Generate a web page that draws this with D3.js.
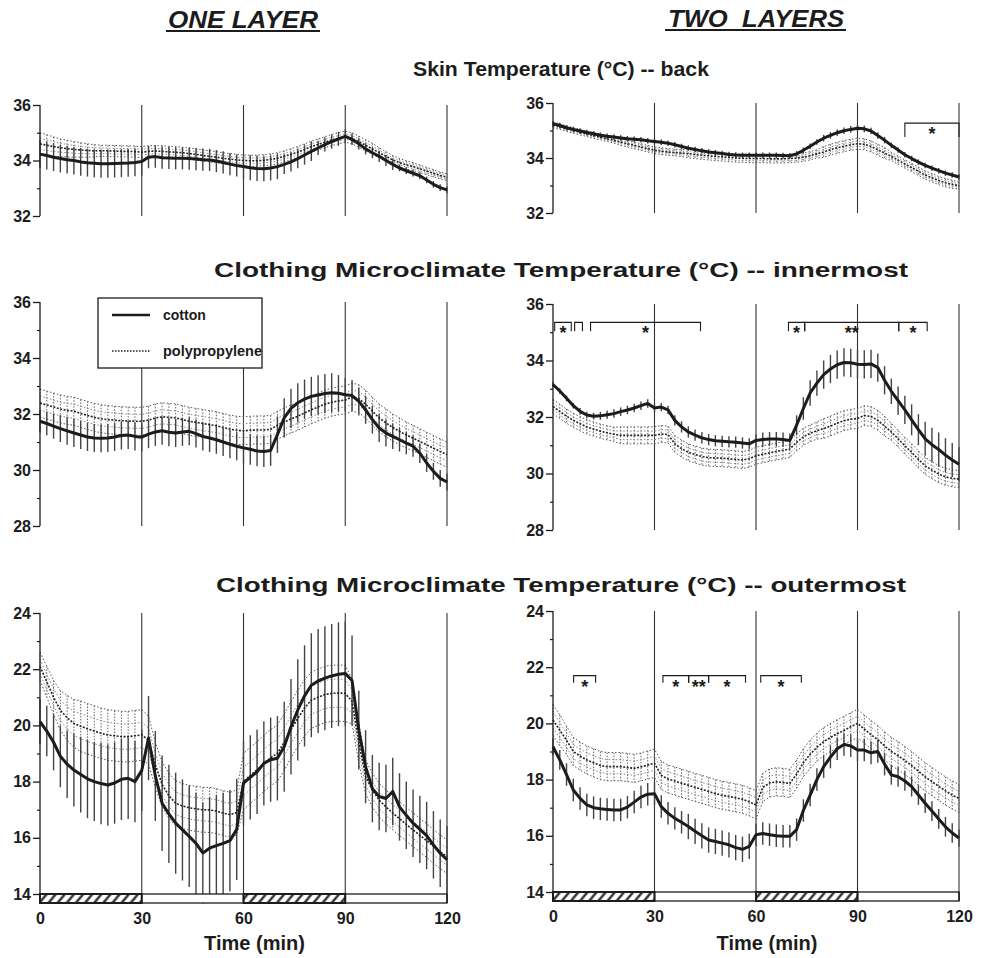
<!DOCTYPE html>
<html><head><meta charset="utf-8">
<script src="https://cdn.jsdelivr.net/npm/d3@7/dist/d3.min.js"></script>
<style>body{margin:0;background:#fff}</style>
</head><body>
<svg id="chart" width="981" height="958"></svg>
<script>
// ---------------- DATA ----------------
const minutes = [0,2,4,6,8,10,12,14,16,18,20,22,24,26,28,30,32,34,36,38,40,42,44,46,48,50,52,54,56,58,60,62,64,66,68,70,72,74,76,78,80,82,84,86,88,90,92,94,96,98,100,102,104,106,108,110,112,114,116,118,120];
const timeTicks = [0,30,60,90,120];
const phaseLines = [30,60,90,120];
const exerciseBouts = [[0,30],[60,90]];
const columnTitles = ["ONE LAYER","TWO  LAYERS"];
const rowTitles = ["Skin Temperature (°C) -- back","Clothing Microclimate Temperature (°C) -- innermost","Clothing Microclimate Temperature (°C) -- outermost"];
const seriesNames = ["cotton","polypropylene"];
const xTitle = "Time (min)";

const skinTicks = [32,34,36], skinMinor = [33,35];
const innerTicks = [28,30,32,34,36], innerMinor = [29,31,33,35];
const outerTicks = [14,16,18,20,22,24], outerMinor = [15,17,19,21,23];

// Skin back, one layer
const skinOneCotton = [34.23,34.18,34.12,34.07,34.03,34.00,33.95,33.92,33.90,33.88, 33.88,33.89,33.90,33.91,33.93,33.96,34.12,34.14,34.10,34.09, 34.08,34.08,34.07,34.05,34.03,34.02,33.98,33.93,33.87,33.82, 33.78,33.74,33.71,33.70,33.73,33.78,33.86,33.95,34.07,34.20, 34.33,34.45,34.57,34.68,34.78,34.87,34.76,34.60,34.42,34.28, 34.15,34.00,33.86,33.73,33.63,33.54,33.45,33.30,33.14,33.02, 32.94];
const skinOneCottonSD = [0.5,0.5,0.5,0.5,0.5,0.5,0.5,0.5,0.5,0.5, 0.5,0.5,0.5,0.5,0.5,0.5,0.4,0.4,0.4,0.4, 0.4,0.4,0.4,0.4,0.4,0.4,0.4,0.4,0.4,0.4, 0.45,0.45,0.45,0.45,0.45,0.45,0.35,0.35,0.35,0.35, 0.35,0.25,0.25,0.25,0.25,0.25,0.2,0.2,0.2,0.2, 0.2,0.2,0.2,0.12,0.12,0.12,0.12,0.12,0.12,0.12, 0.12];
const skinOnePoly = [34.60,34.55,34.50,34.46,34.43,34.40,34.38,34.36,34.35,34.35, 34.35,34.34,34.33,34.33,34.32,34.30,34.33,34.34,34.33,34.31, 34.30,34.28,34.25,34.22,34.18,34.15,34.12,34.08,34.05,34.02, 34.00,33.99,33.99,34.01,34.04,34.08,34.15,34.22,34.30,34.40, 34.50,34.58,34.66,34.74,34.80,34.86,34.80,34.68,34.55,34.42, 34.28,34.15,34.02,33.92,33.84,33.78,33.70,33.62,33.54,33.46, 33.40];
const skinOnePolySD = [0.40,0.38,0.35,0.32,0.30,0.28,0.26,0.24,0.22,0.20, 0.2,0.2,0.2,0.2,0.2,0.2,0.2,0.2,0.2,0.2, 0.2,0.2,0.2,0.2,0.2,0.2,0.2,0.2,0.2,0.2, 0.2,0.2,0.2,0.2,0.2,0.2,0.2,0.2,0.2,0.2, 0.2,0.2,0.2,0.2,0.2,0.2,0.2,0.2,0.2,0.2, 0.18,0.17,0.16,0.15,0.15,0.14,0.14,0.13,0.13,0.12, 0.12];

// Skin back, two layers
const skinTwoCotton = [35.25,35.18,35.10,35.04,34.98,34.93,34.88,34.83,34.79,34.76, 34.73,34.70,34.68,34.66,34.63,34.60,34.57,34.54,34.48,34.42, 34.36,34.31,34.26,34.22,34.19,34.16,34.13,34.11,34.10,34.10, 34.10,34.10,34.10,34.10,34.09,34.08,34.15,34.28,34.43,34.58, 34.72,34.82,34.92,34.99,35.04,35.08,35.06,34.98,34.82,34.65, 34.46,34.29,34.12,33.98,33.85,33.73,33.63,33.54,33.45,33.38, 33.31];
const skinTwoCottonSD = [0.1,0.1,0.1,0.1,0.1,0.1,0.1,0.1,0.1,0.1, 0.1,0.1,0.1,0.1,0.1,0.1,0.1,0.1,0.1,0.1, 0.1,0.1,0.1,0.1,0.1,0.1,0.1,0.1,0.1,0.1, 0.1,0.1,0.1,0.1,0.1,0.1,0.1,0.1,0.1,0.1, 0.12,0.12,0.12,0.12,0.12,0.12,0.12,0.12,0.12,0.12, 0.1,0.1,0.1,0.1,0.1,0.1,0.1,0.1,0.1,0.1, 0.1];
const skinTwoPoly = [35.20,35.14,35.07,35.00,34.94,34.88,34.82,34.76,34.70,34.64, 34.58,34.52,34.46,34.40,34.34,34.28,34.25,34.22,34.20,34.18, 34.16,34.13,34.10,34.08,34.06,34.04,34.02,34.00,33.99,33.98, 33.98,33.98,33.97,33.97,33.97,33.98,34.00,34.03,34.08,34.15, 34.22,34.30,34.37,34.43,34.48,34.52,34.50,34.42,34.30,34.18, 34.06,33.92,33.78,33.65,33.52,33.38,33.28,33.18,33.10,33.04, 33.00];
const skinTwoPolySD = [0.1,0.1,0.1,0.1,0.1,0.1,0.1,0.1,0.1,0.1, 0.12,0.12,0.12,0.12,0.12,0.12,0.12,0.12,0.12,0.12, 0.15,0.15,0.15,0.15,0.15,0.15,0.15,0.15,0.15,0.15, 0.15,0.15,0.15,0.15,0.15,0.15,0.15,0.15,0.15,0.15, 0.2,0.2,0.2,0.2,0.2,0.2,0.2,0.2,0.2,0.2, 0.15,0.15,0.15,0.15,0.15,0.15,0.15,0.15,0.15,0.15, 0.12];

// Innermost microclimate, one layer
const innerOneCotton = [31.74,31.66,31.57,31.48,31.40,31.32,31.25,31.18,31.14,31.13, 31.14,31.18,31.23,31.25,31.20,31.17,31.28,31.36,31.40,31.35, 31.32,31.36,31.38,31.30,31.20,31.14,31.08,31.00,30.92,30.85, 30.79,30.74,30.68,30.66,30.70,31.26,31.86,32.20,32.40,32.53, 32.63,32.68,32.73,32.76,32.74,32.69,32.66,32.45,32.15,31.80, 31.50,31.32,31.20,31.08,30.96,30.85,30.60,30.25,29.95,29.70, 29.57];
const innerOneCottonSD = [0.40,0.42,0.45,0.48,0.50,0.50,0.50,0.50,0.50,0.50, 0.5,0.5,0.5,0.5,0.5,0.5,0.5,0.5,0.5,0.5, 0.5,0.5,0.5,0.5,0.5,0.5,0.5,0.5,0.5,0.5, 0.55,0.55,0.55,0.55,0.55,0.65,0.70,0.70,0.70,0.70, 0.70,0.70,0.70,0.70,0.65,0.60,0.55,0.50,0.50,0.50, 0.50,0.48,0.45,0.42,0.40,0.38,0.35,0.32,0.30,0.30, 0.30];
const innerOnePoly = [32.39,32.32,32.25,32.18,32.13,32.10,32.02,31.95,31.88,31.83, 31.80,31.78,31.76,31.75,31.74,31.74,31.78,31.86,31.90,31.88, 31.86,31.80,31.74,31.70,31.66,31.62,31.58,31.52,31.46,31.42, 31.40,31.42,31.43,31.43,31.45,31.60,31.72,31.82,31.92,32.04, 32.15,32.25,32.35,32.42,32.47,32.50,32.60,32.55,32.35,32.10, 31.86,31.68,31.52,31.38,31.25,31.14,31.02,30.90,30.78,30.66, 30.55];
const innerOnePolySD = [0.5,0.5,0.5,0.5,0.5,0.5,0.5,0.5,0.5,0.5, 0.5,0.5,0.5,0.5,0.5,0.5,0.5,0.5,0.5,0.5, 0.5,0.5,0.5,0.5,0.5,0.5,0.5,0.5,0.5,0.5, 0.5,0.5,0.5,0.5,0.5,0.5,0.5,0.5,0.5,0.5, 0.5,0.5,0.5,0.5,0.5,0.5,0.5,0.5,0.5,0.5, 0.5,0.5,0.48,0.48,0.46,0.46,0.45,0.45,0.45,0.45, 0.45];

// Innermost microclimate, two layers
const innerTwoCotton = [33.15,32.92,32.66,32.40,32.20,32.07,32.03,32.04,32.08,32.12, 32.19,32.25,32.32,32.40,32.48,32.32,32.35,32.25,31.88,31.65, 31.47,31.36,31.26,31.20,31.16,31.14,31.12,31.11,31.08,31.05, 31.17,31.20,31.22,31.22,31.20,31.17,31.71,32.30,32.85,33.20, 33.50,33.70,33.85,33.93,33.92,33.87,33.86,33.88,33.75,33.30, 32.91,32.58,32.25,31.90,31.55,31.23,31.02,30.85,30.65,30.48, 30.33];
const innerTwoCottonSD = [0.10,0.10,0.10,0.10,0.12,0.12,0.12,0.14,0.14,0.15, 0.15,0.15,0.15,0.15,0.15,0.15,0.15,0.15,0.18,0.2, 0.2,0.2,0.2,0.2,0.2,0.2,0.2,0.2,0.2,0.2, 0.22,0.25,0.25,0.25,0.25,0.25,0.35,0.4,0.45,0.45, 0.5,0.5,0.5,0.5,0.5,0.5,0.5,0.5,0.5,0.5, 0.45,0.5,0.5,0.55,0.55,0.6,0.6,0.6,0.6,0.6, 0.6];
const innerTwoPoly = [32.37,32.20,32.03,31.88,31.76,31.65,31.57,31.50,31.44,31.39, 31.35,31.35,31.35,31.35,31.35,31.35,31.40,31.38,31.05,30.88, 30.75,30.67,30.60,30.56,30.55,30.54,30.52,30.50,30.48,30.52, 30.63,30.68,30.73,30.78,30.82,30.87,31.10,31.30,31.42,31.52, 31.59,31.68,31.78,31.87,31.92,31.95,32.05,32.02,31.88,31.68, 31.47,31.23,30.98,30.75,30.50,30.27,30.12,29.98,29.88,29.83, 29.80];
const innerTwoPolySD = [0.25,0.25,0.25,0.25,0.25,0.25,0.25,0.25,0.25,0.25, 0.3,0.3,0.3,0.3,0.3,0.3,0.3,0.3,0.3,0.3, 0.3,0.3,0.3,0.3,0.3,0.3,0.3,0.3,0.3,0.3, 0.3,0.3,0.3,0.3,0.3,0.3,0.3,0.3,0.3,0.3, 0.35,0.35,0.35,0.35,0.35,0.35,0.35,0.35,0.35,0.35, 0.3,0.3,0.3,0.3,0.3,0.3,0.3,0.3,0.3,0.3, 0.3];

// Outermost microclimate, one layer
const outerOneCotton = [20.13,19.80,19.40,18.90,18.62,18.41,18.25,18.10,18.00,17.93, 17.88,17.95,18.08,18.12,18.00,18.40,19.55,18.20,17.23,16.85, 16.52,16.28,16.05,15.80,15.46,15.63,15.72,15.80,15.90,16.30, 17.95,18.15,18.35,18.65,18.78,18.83,19.24,19.95,20.55,21.05, 21.43,21.58,21.68,21.76,21.82,21.85,21.60,19.83,18.53,17.75, 17.47,17.40,17.65,17.10,16.80,16.52,16.30,16.08,15.75,15.45, 15.22];
const outerOneCottonSD = [0.8,0.9,1.0,1.1,1.2,1.3,1.35,1.4,1.4,1.45, 1.45,1.45,1.45,1.45,1.45,1.45,1.5,1.6,1.7,1.75, 1.8,1.8,1.8,1.8,1.8,1.8,1.8,1.8,1.8,1.8, 1.5,1.5,1.5,1.5,1.5,1.5,1.6,1.7,1.8,1.8, 1.85,1.85,1.85,1.85,1.85,1.85,1.6,1.4,1.3,1.2, 1.2,1.2,1.2,1.2,1.2,1.2,1.2,1.2,1.2,1.2, 1.2];
const outerOnePoly = [22.10,21.55,21.00,20.54,20.27,20.07,19.97,19.88,19.80,19.72, 19.66,19.63,19.60,19.60,19.63,19.66,19.48,18.60,17.90,17.50, 17.23,17.13,17.07,17.03,17.00,16.99,16.95,16.88,16.82,16.90, 18.00,18.22,18.42,18.65,18.85,19.01,19.40,19.85,20.25,20.62, 20.90,21.00,21.10,21.14,21.15,21.14,20.85,19.36,18.18,17.70, 17.34,17.10,16.88,16.68,16.48,16.28,16.09,15.90,15.70,15.50, 15.33];
const outerOnePolySD = [0.5,0.55,0.6,0.7,0.8,0.85,0.9,0.9,0.9,0.9, 0.9,0.9,0.9,0.9,0.9,0.9,0.85,0.8,0.8,0.8, 0.8,0.8,0.8,0.8,0.8,0.8,0.8,0.8,0.8,0.8, 1.0,1.0,1.0,1.0,1.0,1.0,1.0,1.0,1.0,1.0, 1.0,1.0,1.0,1.0,1.0,1.0,0.8,0.7,0.6,0.6, 0.6,0.6,0.6,0.6,0.6,0.6,0.6,0.6,0.6,0.6, 0.6];

// Outermost microclimate, two layers
const outerTwoCotton = [19.17,18.70,18.18,17.63,17.33,17.10,17.00,16.96,16.94,16.92, 16.92,17.02,17.20,17.38,17.48,17.50,17.04,16.80,16.62,16.48, 16.33,16.16,16.00,15.85,15.80,15.74,15.68,15.58,15.52,15.62, 16.04,16.08,16.04,16.00,15.98,15.98,16.22,16.90,17.45,18.00, 18.46,18.80,19.10,19.25,19.20,19.05,19.05,18.95,19.00,18.55, 18.17,18.10,17.95,17.75,17.45,17.16,16.88,16.60,16.32,16.10, 15.92];
const outerTwoCottonSD = [0.3,0.35,0.4,0.4,0.4,0.4,0.4,0.4,0.4,0.4, 0.4,0.4,0.4,0.4,0.4,0.4,0.4,0.4,0.4,0.4, 0.45,0.45,0.45,0.45,0.45,0.45,0.45,0.45,0.45,0.45, 0.4,0.4,0.4,0.4,0.4,0.4,0.4,0.4,0.4,0.4, 0.4,0.4,0.4,0.4,0.4,0.4,0.4,0.4,0.4,0.4, 0.35,0.35,0.35,0.35,0.35,0.35,0.35,0.35,0.35,0.35, 0.3];
const outerTwoPoly = [20.12,19.76,19.40,19.00,18.84,18.70,18.60,18.50,18.46,18.46, 18.46,18.43,18.40,18.45,18.52,18.58,18.15,18.02,17.95,17.87, 17.80,17.72,17.65,17.58,17.50,17.44,17.40,17.35,17.30,17.21, 17.10,17.72,17.88,17.92,17.90,17.86,18.20,18.60,18.90,19.15, 19.35,19.50,19.63,19.75,19.88,20.00,19.80,19.60,19.42,19.20, 19.00,18.85,18.68,18.50,18.30,18.10,17.93,17.76,17.60,17.45, 17.33];
const outerTwoPolySD = [0.55,0.55,0.5,0.5,0.5,0.5,0.5,0.5,0.5,0.5, 0.5,0.5,0.5,0.5,0.5,0.5,0.5,0.5,0.5,0.5, 0.5,0.5,0.5,0.5,0.5,0.5,0.5,0.5,0.5,0.5, 0.5,0.5,0.5,0.5,0.5,0.5,0.5,0.5,0.5,0.5, 0.5,0.5,0.5,0.5,0.5,0.5,0.5,0.5,0.5,0.5, 0.5,0.5,0.5,0.5,0.5,0.5,0.5,0.5,0.5,0.5, 0.5];

// Significance brackets: [start min, end min, label]
const sigSkinTwo = [[104,120,"*"]];
const sigInnerTwo = [[0.5,5.4,"*"],[6.4,8.7,""],[11.1,43.6,"*"],[69.6,74.4,"*"],[74.4,102.2,"**"],[102.2,110.6,"*"]];
const sigOuterTwo = [[6.1,12.6,"*"],[32.5,40.1,"*"],[40.1,46,"**"],[46,56.9,"*"],[61.4,73.4,"*"]];

// ---------------- LAYOUT ----------------
const FONT = '"Liberation Sans", Arial, Helvetica, sans-serif';
const INK = "#1c1c1c";
const svg = d3.select("#chart");

const defs = svg.append("defs");
const pat = defs.append("pattern").attr("id","hatch").attr("patternUnits","userSpaceOnUse")
  .attr("width",7).attr("height",7).attr("patternTransform","rotate(40)");
pat.append("rect").attr("width",7).attr("height",7).attr("fill","#fff");
pat.append("line").attr("x1",1.5).attr("y1",0).attr("x2",1.5).attr("y2",7).attr("stroke",INK).attr("stroke-width",2.2);

const panels = [
  {x0:40,x1:447,yTop:105,yBot:216,domain:[32,36],ticks:skinTicks,minor:skinMinor,cotton:skinOneCotton,cottonSD:skinOneCottonSD,poly:skinOnePoly,polySD:skinOnePolySD},
  {x0:553,x1:959,yTop:103,yBot:213,domain:[32,36],ticks:skinTicks,minor:skinMinor,cotton:skinTwoCotton,cottonSD:skinTwoCottonSD,poly:skinTwoPoly,polySD:skinTwoPolySD,sig:sigSkinTwo,sigLevel:35.27,sigTick:14},
  {x0:40,x1:447,yTop:302,yBot:526,domain:[28,36],ticks:innerTicks,minor:innerMinor,cotton:innerOneCotton,cottonSD:innerOneCottonSD,poly:innerOnePoly,polySD:innerOnePolySD,legend:true},
  {x0:553,x1:959,yTop:304,yBot:530,domain:[28,36],ticks:innerTicks,minor:innerMinor,cotton:innerTwoCotton,cottonSD:innerTwoCottonSD,poly:innerTwoPoly,polySD:innerTwoPolySD,sig:sigInnerTwo,sigLevel:35.35,sigTick:9},
  {x0:40,x1:447,yTop:613,yBot:894,domain:[14,24],ticks:outerTicks,minor:outerMinor,cotton:outerOneCotton,cottonSD:outerOneCottonSD,poly:outerOnePoly,polySD:outerOnePolySD,bottom:true},
  {x0:553,x1:959,yTop:611,yBot:892,domain:[14,24],ticks:outerTicks,minor:outerMinor,cotton:outerTwoCotton,cottonSD:outerTwoCottonSD,poly:outerTwoPoly,polySD:outerTwoPolySD,bottom:true,sig:sigOuterTwo,sigLevel:21.7,sigTick:7}
];

const bandRows = [-1,-0.5,0.5,1];

function drawPanel(p){
  const x = d3.scaleLinear().domain([0,120]).range([p.x0,p.x1]);
  const y = d3.scaleLinear().domain(p.domain).range([p.yBot,p.yTop]);
  const g = svg.append("g");
  const barH = 9;
  const lowEdge = p.bottom ? p.yBot + barH : p.yBot;

  // phase lines
  g.selectAll("line.phase").data(phaseLines).join("line")
    .attr("x1",d=>x(d)).attr("x2",d=>x(d)).attr("y1",y(p.domain[1])).attr("y2",lowEdge)
    .attr("stroke","#333").attr("stroke-width",1.1);

  const pts = minutes.map((t,i)=>({t, c:p.cotton[i], cs:p.cottonSD[i], p:p.poly[i], ps:p.polySD[i]}));

  // polypropylene SD (dotted bars and dotted band rows)
  g.append("g").selectAll("line").data(pts).join("line")
    .attr("x1",d=>x(d.t)).attr("x2",d=>x(d.t))
    .attr("y1",d=>y(d.p+d.ps)).attr("y2",d=>y(d.p-d.ps))
    .attr("stroke","#666").attr("stroke-width",1).attr("stroke-dasharray","1.5,1.5");
  bandRows.forEach(k=>{
    g.append("path").datum(pts).attr("d",d3.line().x(d=>x(d.t)).y(d=>y(d.p+k*d.ps)))
      .attr("fill","none").attr("stroke",Math.abs(k)===1?"#555":"#888").attr("stroke-width",1)
      .attr("stroke-dasharray","1.5,2");
  });

  // cotton SD bars
  g.append("g").selectAll("line").data(pts).join("line")
    .attr("x1",d=>x(d.t)).attr("x2",d=>x(d.t))
    .attr("y1",d=>y(d.c+d.cs)).attr("y2",d=>y(d.c-d.cs))
    .attr("stroke","#444").attr("stroke-width",1.4);

  // polypropylene mean
  g.append("path").datum(pts).attr("d",d3.line().x(d=>x(d.t)).y(d=>y(d.p)))
    .attr("fill","none").attr("stroke","#222").attr("stroke-width",1.6).attr("stroke-dasharray","2,1.5");
  // cotton mean
  g.append("path").datum(pts).attr("d",d3.line().x(d=>x(d.t)).y(d=>y(d.c)))
    .attr("fill","none").attr("stroke",INK).attr("stroke-width",3).attr("stroke-linejoin","round");

  // y axis
  g.append("line").attr("x1",x(0)).attr("x2",x(0)).attr("y1",y(p.domain[1])).attr("y2",lowEdge)
    .attr("stroke",INK).attr("stroke-width",1.3);
  const ax = g.append("g").attr("transform",`translate(${x(0)},0)`)
    .call(d3.axisLeft(y).tickValues(p.ticks).tickSize(7).tickSizeOuter(0).tickPadding(2).tickFormat(d3.format("d")));
  ax.select(".domain").remove();
  ax.selectAll("line").attr("stroke",INK).attr("stroke-width",1.3);
  ax.selectAll("text").attr("font-family",FONT).attr("font-weight","bold").attr("font-size",16).attr("fill",INK);
  const axm = g.append("g").attr("transform",`translate(${x(0)},0)`)
    .call(d3.axisLeft(y).tickValues(p.minor).tickSize(3).tickSizeOuter(0).tickFormat(""));
  axm.select(".domain").remove();
  axm.selectAll("line").attr("stroke",INK).attr("stroke-width",1.2);

  // bottom exercise bar + x axis
  if(p.bottom){
    g.append("rect").attr("x",x(0)).attr("y",p.yBot).attr("width",x(120)-x(0)).attr("height",barH)
      .attr("fill","#fff").attr("stroke",INK).attr("stroke-width",1.3);
    g.selectAll("rect.bout").data(exerciseBouts).join("rect").attr("class","bout")
      .attr("x",d=>x(d[0])).attr("y",p.yBot).attr("width",d=>x(d[1])-x(d[0])).attr("height",barH)
      .attr("fill","url(#hatch)").attr("stroke",INK).attr("stroke-width",2);
    g.selectAll("line.div").data(phaseLines).join("line").attr("class","div")
      .attr("x1",d=>x(d)).attr("x2",d=>x(d)).attr("y1",p.yBot).attr("y2",lowEdge)
      .attr("stroke",INK).attr("stroke-width",1.3);
    const xa = g.append("g").attr("transform",`translate(0,${lowEdge})`)
      .call(d3.axisBottom(x).tickValues(timeTicks).tickSize(0).tickPadding(10).tickFormat(d3.format("d")));
    xa.select(".domain").remove();
    xa.selectAll("text").attr("font-family",FONT).attr("font-weight","bold").attr("font-size",16).attr("fill",INK);
    g.append("text").attr("x",(x(0)+x(120))/2+11).attr("y",950).attr("text-anchor","middle")
      .attr("font-family",FONT).attr("font-weight","bold").attr("font-size",20).attr("fill",INK).text(xTitle);
  }

  // significance brackets
  if(p.sig){
    const yb = y(p.sigLevel);
    g.selectAll("path.sig").data(p.sig).join("path").attr("class","sig")
      .attr("d",d=>`M${x(d[0])},${yb+p.sigTick}V${yb}H${x(d[1])}V${yb+p.sigTick}`)
      .attr("fill","none").attr("stroke",INK).attr("stroke-width",1.1);
    g.selectAll("text.sig").data(p.sig).join("text").attr("class","sig")
      .attr("x",d=>x((d[0]+d[1])/2)).attr("y",yb+17).attr("text-anchor","middle")
      .attr("font-family",FONT).attr("font-weight","bold").attr("font-size",18).attr("fill",INK)
      .text(d=>d[2]);
  }

  // legend
  if(p.legend){
    const lg = g.append("g");
    lg.append("rect").attr("x",98).attr("y",298).attr("width",164).attr("height",70)
      .attr("fill","#fff").attr("stroke",INK).attr("stroke-width",1.3);
    lg.append("line").attr("x1",112).attr("x2",150).attr("y1",315).attr("y2",315)
      .attr("stroke",INK).attr("stroke-width",2.5);
    lg.append("line").attr("x1",112).attr("x2",150).attr("y1",351).attr("y2",351)
      .attr("stroke",INK).attr("stroke-width",1.3).attr("stroke-dasharray","1.5,1.5");
    lg.append("text").attr("x",163).attr("y",320).text(seriesNames[0])
      .attr("font-family",FONT).attr("font-weight","bold").attr("font-size",14).attr("fill",INK);
    lg.append("text").attr("x",163).attr("y",356).text(seriesNames[1]).attr("textLength",99).attr("lengthAdjust","spacingAndGlyphs")
      .attr("font-family",FONT).attr("font-weight","bold").attr("font-size",14).attr("fill",INK);
  }
}
panels.forEach(drawPanel);

// titles
const colPos = [{x:243,y:28,w:150,u0:166,u1:320,uy:31},{x:756,y:27,w:176,u0:665,u1:846,uy:30}];
columnTitles.forEach((t,i)=>{
  const c = colPos[i];
  svg.append("text").attr("x",c.x).attr("y",c.y).attr("text-anchor","middle").text(t)
    .attr("textLength",c.w).attr("lengthAdjust","spacingAndGlyphs")
    .attr("font-family",FONT).attr("font-weight","bold").attr("font-style","italic").attr("font-size",23).attr("fill",INK)
    .style("white-space","pre");
  svg.append("line").attr("x1",c.u0).attr("x2",c.u1).attr("y1",c.uy).attr("y2",c.uy).attr("stroke",INK).attr("stroke-width",2);
});
const rowPos = [{x:561,y:76,w:296},{x:561,y:277,w:694},{x:561,y:592,w:690}];
rowTitles.forEach((t,i)=>{
  const r = rowPos[i];
  svg.append("text").attr("x",r.x).attr("y",r.y).attr("text-anchor","middle").text(t)
    .attr("textLength",r.w).attr("lengthAdjust","spacingAndGlyphs")
    .attr("font-family",FONT).attr("font-weight","bold").attr("font-size",20).attr("fill",INK);
});
</script>
</body></html>
